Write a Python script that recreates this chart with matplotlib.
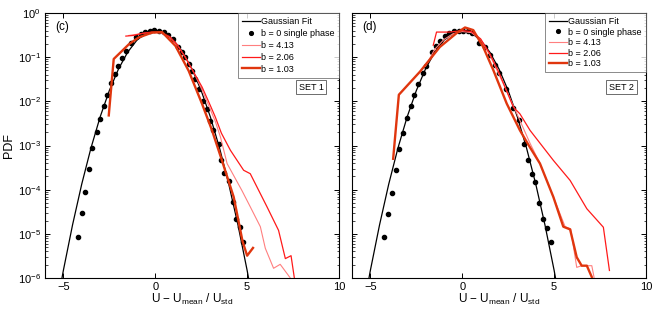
import matplotlib
matplotlib.use("Agg")
import matplotlib.pyplot as plt
import numpy as np
from matplotlib.ticker import LogLocator, NullFormatter, FixedLocator

plt.rcParams['font.family'] = ['Liberation Sans', 'DejaVu Sans']
plt.rcParams['mathtext.fontset'] = 'custom'
plt.rcParams['mathtext.rm'] = 'Liberation Sans'
plt.rcParams['mathtext.it'] = 'Liberation Sans:italic'
plt.rcParams['mathtext.default'] = 'regular'

# ---------------- data ----------------
gauss_x = [-5.5, -5.0, -4.5, -4.0, -3.5, -3.0, -2.5, -2.0, -1.5, -1.0, -0.5, 0.0,
           0.5, 1.0, 1.5, 2.0, 2.5, 3.0, 3.5, 4.0, 4.5, 5.0, 5.5]
gauss_y = [1.08e-7, 1.49e-6, 1.60e-5, 1.34e-4, 8.73e-4, 4.43e-3, 1.75e-2, 5.40e-2, 0.130, 0.242, 0.352, 0.399,
           0.352, 0.242, 0.130, 5.40e-2, 1.75e-2, 4.43e-3, 8.73e-4, 1.34e-4, 1.60e-5, 1.49e-6, 1.08e-7]

# SET 1 (panel c)
s1_dot_x = [-4.20, -4.01, -3.81, -3.60, -3.42, -3.18, -3.00, -2.80, -2.60, -2.42, -2.20, -2.02, -1.80,
            -1.58, -1.30, -1.04, -0.80, -0.55, -0.30, -0.05, 0.20, 0.45, 0.70, 0.95, 1.24, 1.46,
            1.64, 1.82, 2.00, 2.18, 2.40, 2.62, 2.82, 3.00, 3.17, 3.45, 3.58, 3.76, 4.00, 4.21,
            4.41, 4.60, 4.78]
s1_dot_y = [8.5e-6, 2.9e-5, 8.9e-5, 2.9e-4, 8.7e-4, 2.0e-3, 4.0e-3, 7.9e-3, 1.4e-2, 2.6e-2, 4.2e-2, 6.3e-2,
            9.5e-2, 0.135, 0.214, 0.288, 0.339, 0.372, 0.398, 0.407, 0.398, 0.372, 0.324, 0.263,
            0.170, 0.129, 0.100, 0.069, 0.048, 0.0316, 0.019, 0.0102, 6.8e-3, 3.6e-3, 2.2e-3,
            1.1e-3, 4.8e-4, 2.4e-4, 1.6e-4, 5.2e-5, 2.2e-5, 1.45e-5, 6.6e-6]

s1_b413_x = [-1.45, -1.0, -0.5, -0.2, 0.3, 0.8, 1.2, 1.64, 2.1, 2.55, 3.0, 3.27, 3.55, 3.91, 4.72,
             5.17, 5.72, 5.99, 6.44, 6.80, 7.35]
s1_b413_y = [0.31, 0.33, 0.355, 0.36, 0.355, 0.28, 0.19, 0.10, 0.045, 0.018, 6.5e-3, 3.5e-3, 1.55e-3,
             3.9e-4, 9.5e-5, 4.1e-5, 1.45e-5, 4.7e-6, 1.66e-6, 2.04e-6, 1.0e-6]
s1_b206_x = [-1.60, -1.2, -0.7, -0.2, 0.3, 0.8, 1.2, 1.64, 2.1, 2.55, 3.0, 3.27, 3.60, 4.09, 4.81,
             5.17, 6.08, 6.71, 7.08, 7.39, 7.57]
s1_b206_y = [0.30, 0.31, 0.345, 0.37, 0.365, 0.29, 0.19, 0.098, 0.045, 0.021, 8.0e-3, 4.4e-3, 1.9e-3,
             7.8e-4, 2.75e-4, 2.3e-4, 4.1e-5, 1.2e-5, 2.75e-6, 3.2e-6, 1.0e-6]
s1_b103_x = [-2.53, -2.26, -1.44, -0.9, -0.17, 0.37, 1.10, 1.82, 2.55, 3.09, 3.60, 4.27, 4.75, 5.00, 5.32]
s1_b103_y = [4.8e-3, 0.091, 0.195, 0.28, 0.36, 0.37, 0.18, 0.049, 8.7e-3, 2.2e-3, 5.0e-4, 6.8e-5,
             6.8e-6, 3.2e-6, 4.8e-6]

# SET 2 (panel d)
s2_dot_x = [-4.27, -4.05, -3.85, -3.63, -3.43, -3.25, -3.03, -2.81, -2.63, -2.39, -2.16, -1.98, -1.67,
            -1.43, -1.22, -0.95, -0.70, -0.45, -0.20, 0.05, 0.30, 0.55, 0.93, 1.24, 1.51, 1.78,
            2.02, 2.38, 2.78, 3.11, 3.36, 3.60, 3.78, 3.96, 4.20, 4.38, 4.60, 4.82]
s2_dot_y = [8.5e-6, 2.75e-5, 8.5e-5, 2.8e-4, 8.5e-4, 1.9e-3, 4.1e-3, 7.8e-3, 1.38e-2, 2.5e-2, 4.3e-2,
            6.3e-2, 0.132, 0.178, 0.234, 0.30, 0.35, 0.385, 0.40, 0.40, 0.39, 0.36, 0.204, 0.166,
            0.112, 0.066, 0.043, 0.0195, 6.9e-3, 3.7e-3, 1.07e-3, 4.6e-4, 2.3e-4, 1.48e-4, 5.0e-5,
            2.2e-5, 1.38e-5, 6.5e-6]
s2_b413_x = [-2.0, -1.5, -1.0, -0.5, 0.0, 0.5, 1.0, 1.5, 2.4, 3.10, 3.69, 4.23, 4.96, 5.6, 5.9,
             6.23, 6.5, 7.05, 7.18]
s2_b413_y = [0.062, 0.15, 0.25, 0.34, 0.38, 0.36, 0.25, 0.112, 0.0178, 4.0e-3, 1.12e-3, 3.9e-4,
             6.8e-5, 1.45e-5, 1.3e-5, 1.74e-6, 1.9e-6, 1.9e-6, 1.0e-6]
s2_b206_x = [-1.58, -1.40, -0.67, 0.0, 0.5, 1.0, 1.5, 2.0, 2.78, 3.14, 3.69, 4.96, 5.87, 6.78,
             7.68, 8.01]
s2_b206_y = [0.186, 0.37, 0.37, 0.40, 0.38, 0.26, 0.12, 0.045, 7.4e-3, 5.2e-3, 2.2e-3, 4.6e-4,
             1.62e-4, 3.7e-5, 1.41e-5, 1.48e-6]
s2_b103_x = [-3.76, -3.45, -2.30, -1.22, -0.31, 0.15, 0.60, 1.14, 1.69, 2.42, 3.14, 3.69, 4.23,
             4.96, 5.50, 5.87, 6.23, 6.50, 6.78, 7.05]
s2_b103_y = [5.0e-4, 0.0141, 0.047, 0.17, 0.35, 0.47, 0.41, 0.17, 0.051, 8.9e-3, 2.2e-3, 9.0e-4,
             3.9e-4, 6.8e-5, 1.45e-5, 1.26e-5, 2.95e-6, 1.9e-6, 1.9e-6, 1.05e-6]

legend_labels = ['Gaussian Fit', 'b = 0 single phase', 'b = 4.13', 'b = 2.06', 'b = 1.03']
panel_labels = ['(c)', '(d)']
set_labels = ['SET 1', 'SET 2']
x_ticks = [-5, 0, 5, 10]

c_light = '#ff7f7f'
c_med = '#ff1a1a'
c_thick = '#e0360e'

fig = plt.figure(figsize=(6.54, 3.10), dpi=100)
ax1 = fig.add_axes([45/654, 32/310, 294/654, 265/310])
ax2 = fig.add_axes([352/654, 32/310, 294/654, 265/310])

sets = [
    (ax1, s1_dot_x, s1_dot_y, s1_b413_x, s1_b413_y, s1_b206_x, s1_b206_y, s1_b103_x, s1_b103_y),
    (ax2, s2_dot_x, s2_dot_y, s2_b413_x, s2_b413_y, s2_b206_x, s2_b206_y, s2_b103_x, s2_b103_y),
]

for i, (ax, dx, dy, lx, ly, mx, my, tx, ty) in enumerate(sets):
    ax.plot(gauss_x, gauss_y, color='black', lw=0.9, label=legend_labels[0], zorder=3)
    ax.plot(dx, dy, 'o', color='black', ms=3.0, mec='black', label=legend_labels[1], zorder=4)
    ax.plot(lx, ly, color=c_light, lw=0.8, label=legend_labels[2], zorder=5)
    ax.plot(mx, my, color=c_med, lw=0.9, label=legend_labels[3], zorder=5)
    ax.plot(tx, ty, color=c_thick, lw=1.7, label=legend_labels[4], zorder=6)
    ax.set_yscale('log')
    ax.set_xlim(-6, 10)
    ax.set_ylim(1e-6, 1)
    ax.xaxis.set_major_locator(FixedLocator(x_ticks))
    ax.yaxis.set_major_locator(LogLocator(base=10, numticks=10))
    ax.yaxis.set_minor_locator(LogLocator(base=10, subs=np.arange(2, 10), numticks=10))
    ax.yaxis.set_minor_formatter(NullFormatter())
    ax.tick_params(which='both', direction='in', top=True, right=True, labelsize=8, pad=3)
    ax.tick_params(which='major', length=3.5, width=0.7)
    ax.tick_params(which='minor', length=1.8, width=0.5)
    for sp in ax.spines.values():
        sp.set_linewidth(0.8)
    ax.set_xlabel(r'U $-$ U$_{\mathregular{mean}}$ / U$_{\mathregular{std}}$', fontsize=8.5, labelpad=-0.5)
    ax.text(0.034, 0.947, panel_labels[i], transform=ax.transAxes, fontsize=8.5, va='center', ha='left')
    ax.text(0.905 if i == 0 else 0.917, 0.72, set_labels[i], transform=ax.transAxes, fontsize=6.5,
            va='center', ha='center',
            bbox=dict(boxstyle='square,pad=0.3', fc='white', ec='#555555', lw=0.6))
    leg = ax.legend(loc='upper right', fontsize=6.5, frameon=True, fancybox=False,
                    borderaxespad=0.0, handlelength=2.0, handletextpad=0.15,
                    labelspacing=0.32 if i == 0 else 0.17, borderpad=0.45, markerscale=0.9)
    leg.get_frame().set_edgecolor('#555555')
    leg.get_frame().set_linewidth(0.6)

ax1.set_ylabel('PDF', fontsize=9, labelpad=2)
ax2.tick_params(axis='y', which='both', labelleft=False)

fig.savefig('out.png', dpi=100)
